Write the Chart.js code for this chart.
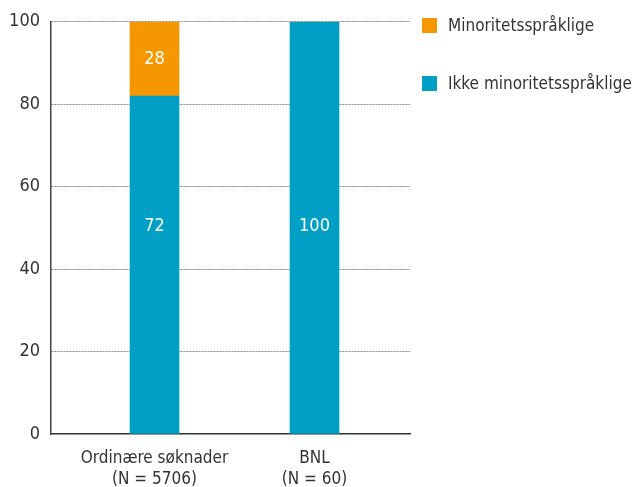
<!DOCTYPE html>
<html>
<head>
<meta charset="utf-8">
<script src="https://cdn.jsdelivr.net/npm/chart.js@4"></script>
<style>
  html, body { margin: 0; padding: 0; background: #fff; }
</style>
</head>
<body>
<canvas id="chart" width="632" height="487"></canvas>
<script>
// data
const categories = [['Ordinære søknader', '(N = 5706)'], ['BNL', '(N = 60)']];
const ikkeName = 'Ikke minoritetsspråklige';
const minoritetName = 'Minoritetsspråklige';
const ikkeValues = [82, 100];
const minoritetValues = [18, 0];
const ikkeLabels = ['72', '100'];
const minoritetLabels = ['28', ''];
const yTicks = [0, 20, 40, 60, 80, 100];

const FONT = "'DejaVu Sans Condensed', 'DejaVu Sans', sans-serif";
const BLUE = '#00a0c6';
const ORANGE = '#f49700';

Chart.defaults.font.family = FONT;
Chart.defaults.color = '#333';

// labels inside the bars
const barLabels = {
    id: 'barLabels',
    afterDatasetsDraw(chart) {
        const ctx = chart.ctx;
        const yScale = chart.scales.y;
        ctx.save();
        ctx.font = '18px ' + FONT;
        ctx.fillStyle = '#fff';
        ctx.textAlign = 'center';
        ctx.textBaseline = 'middle';
        chart.data.datasets.forEach((ds, di) => {
            const meta = chart.getDatasetMeta(di);
            meta.data.forEach((bar, i) => {
                const txt = ds.valueLabels[i];
                if (!txt) return;
                let cy;
                if (di === 0) {
                    const total = chart.data.datasets.reduce((s, d) => s + d.data[i].y, 0);
                    cy = yScale.getPixelForValue(total / 2) - 2;
                } else {
                    cy = (bar.y + bar.base) / 2;
                }
                ctx.fillText(txt, bar.x, cy);
            });
        });
        ctx.restore();
    }
};

// legend on the right, top item first
const sideLegend = {
    id: 'sideLegend',
    afterDraw(chart) {
        const ctx = chart.ctx;
        const items = chart.data.datasets.slice().reverse();
        ctx.save();
        ctx.font = '17px ' + FONT;
        ctx.textAlign = 'left';
        ctx.textBaseline = 'middle';
        items.forEach((ds, i) => {
            const top = 18 + i * 58;
            ctx.fillStyle = ds.backgroundColor;
            ctx.fillRect(422, top, 15, 15);
            ctx.fillStyle = '#333';
            ctx.fillText(ds.label, 448, top + 9);
        });
        ctx.restore();
    }
};

new Chart(document.getElementById('chart').getContext('2d'), {
    type: 'bar',
    data: {
        datasets: [
            {
                label: ikkeName,
                data: ikkeValues.map((v, i) => ({ x: i, y: v })),
                valueLabels: ikkeLabels,
                backgroundColor: BLUE,
                barThickness: 49
            },
            {
                label: minoritetName,
                data: minoritetValues.map((v, i) => ({ x: i, y: v })),
                valueLabels: minoritetLabels,
                backgroundColor: ORANGE,
                barThickness: 49
            }
        ]
    },
    options: {
        responsive: false,
        animation: false,
        layout: { padding: { top: 18, right: 222, left: 0, bottom: 0 } },
        plugins: {
            legend: { display: false },
            tooltip: { enabled: false }
        },
        scales: {
            x: {
                type: 'linear',
                stacked: true,
                offset: false,
                min: -0.647,
                max: 1.597,
                afterBuildTicks: s => { s.ticks = categories.map((c, i) => ({ value: i })); },
                afterFit: s => { s.height = 53; },
                grid: { display: false, offset: false },
                border: { display: true, color: '#333', width: 1.5 },
                ticks: {
                    autoSkip: false,
                    maxRotation: 0,
                    padding: 6,
                    font: { size: 17, lineHeight: 1.25 },
                    color: '#333',
                    callback: v => categories[v]
                }
            },
            y: {
                stacked: true,
                min: 0,
                max: 100,
                afterBuildTicks: s => { s.ticks = yTicks.map(v => ({ value: v })); },
                afterFit: s => { s.width = 51; },
                grid: {
                    drawTicks: false,
                    color: c => (c.tick && c.tick.value === 0) ? 'rgba(0,0,0,0)' : '#888',
                    lineWidth: 1
                },
                border: { display: true, color: '#444', width: 1.5, dash: [2, 1] },
                ticks: {
                    padding: 11,
                    font: { size: 18 },
                    color: '#333'
                }
            }
        }
    },
    plugins: [barLabels, sideLegend]
});
</script>
</body>
</html>
